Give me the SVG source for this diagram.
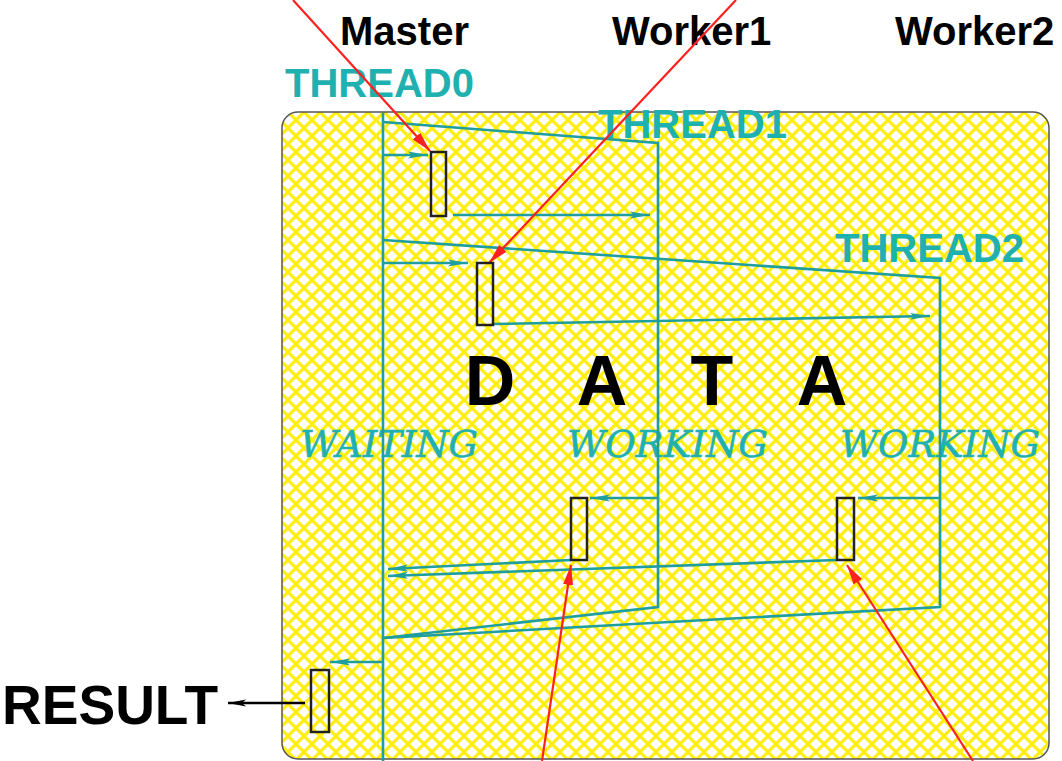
<svg xmlns="http://www.w3.org/2000/svg" width="1062" height="761" viewBox="0 0 1062 761">
<style>
.lbl{font-family:"Liberation Sans",Arial,sans-serif;font-weight:bold;fill:#000}
.thr{font-family:"Liberation Sans",Arial,sans-serif;font-weight:bold;fill:#1fb0b0}
.st{font-family:"DejaVu Serif","Liberation Serif",serif;font-style:italic;fill:#1fb0b0;stroke:#1fb0b0;stroke-width:0.6}
.big{font-family:"Liberation Sans",Arial,sans-serif;font-weight:bold;font-size:70px;fill:#000;text-anchor:middle}
.tl{fill:none;stroke:#1e9e9e;stroke-width:2.6}
.ta{fill:none;stroke:#1e9e9e;stroke-width:2.6;marker-end:url(#ah)}
.red{fill:none;stroke:#ff2020;stroke-width:2.2;marker-end:url(#rh)}
.box{fill:none;stroke:#222;stroke-width:2.5}
</style>
<defs>
<pattern id="hatch" patternUnits="userSpaceOnUse" width="16" height="16">
<rect width="16" height="16" fill="#fff"/>
<path d="M-4,-4 L20,20 M20,-4 L-4,20" stroke="#ffee10" stroke-width="3.2"/>
</pattern>
<marker id="ah" markerUnits="userSpaceOnUse" markerWidth="22" markerHeight="10" refX="20" refY="5" orient="auto">
<path d="M0,1.5 L20,5 L0,8.5 L4,5 Z" fill="#1e9e9e"/>
</marker>
<marker id="rh" markerUnits="userSpaceOnUse" markerWidth="22" markerHeight="12" refX="20" refY="6" orient="auto">
<path d="M0,1 L20,6 L0,11 Z" fill="#ff2020"/>
</marker>
<marker id="bh" markerUnits="userSpaceOnUse" markerWidth="20" markerHeight="10" refX="18" refY="5" orient="auto">
<path d="M0,1.5 L18,5 L0,8.5 L4,5 Z" fill="#000"/>
</marker>
</defs>

<g id="background">
<rect x="282" y="112" width="767" height="647" rx="16" ry="16" fill="url(#hatch)" stroke="#555" stroke-width="1.5"/>
</g>

<g id="headers">
<text class="lbl" x="340" y="45" font-size="40">Master</text>
<text class="lbl" x="612" y="45" font-size="40">Worker1</text>
<text class="lbl" x="895" y="45" font-size="40">Worker2</text>
<text class="thr" x="285" y="97" font-size="40">THREAD0</text>
<text class="thr" x="598" y="138" font-size="40">THREAD1</text>
<text class="thr" x="835" y="262" font-size="40">THREAD2</text>
</g>

<g id="data-label">
<text class="big" x="490" y="405">D</text>
<text class="big" x="602" y="405">A</text>
<text class="big" x="712" y="405">T</text>
<text class="big" x="822" y="405">A</text>
</g>

<g id="states">
<text class="st" x="300" y="457" font-size="37" textLength="178" lengthAdjust="spacingAndGlyphs">WAITING</text>
<text class="st" x="567" y="457" font-size="37" textLength="201" lengthAdjust="spacingAndGlyphs">WORKING</text>
<text class="st" x="840" y="457" font-size="37" textLength="200" lengthAdjust="spacingAndGlyphs">WORKING</text>
</g>

<g id="connectors">
<line class="tl" x1="383" y1="113" x2="383" y2="761"/>
<polyline class="tl" points="383,122 658,143 658,607 383,638"/>
<polyline class="tl" points="383,240 940,278 940,607 383,638"/>
<line class="ta" x1="383" y1="155" x2="428" y2="155"/>
<line class="ta" x1="453" y1="215" x2="650" y2="215"/>
<line class="ta" x1="383" y1="263" x2="468" y2="263"/>
<line class="ta" x1="493" y1="324" x2="930" y2="316"/>
<line class="ta" x1="657" y1="498" x2="590" y2="498"/>
<line class="ta" x1="940" y1="498" x2="858" y2="498"/>
<line class="ta" x1="571" y1="560" x2="388" y2="569"/>
<line class="ta" x1="837" y1="560" x2="388" y2="576"/>
<line class="ta" x1="383" y1="662" x2="330" y2="662"/>
<line x1="305" y1="703" x2="228" y2="703" stroke="#000" stroke-width="2.5" marker-end="url(#bh)"/>
<line class="red" x1="293" y1="0" x2="430" y2="151"/>
<line class="red" x1="736" y1="0" x2="489" y2="263"/>
<line class="red" x1="542" y1="761" x2="571" y2="565"/>
<line class="red" x1="973" y1="761" x2="847" y2="565"/>
</g>

<g id="master-task1"><rect class="box" x="431" y="152" width="15" height="64"/></g>
<g id="master-task2"><rect class="box" x="477" y="263" width="16" height="62"/></g>
<g id="worker1-task"><rect class="box" x="571" y="498" width="16" height="62"/></g>
<g id="worker2-task"><rect class="box" x="837" y="498" width="17" height="62"/></g>
<g id="result-task"><rect class="box" x="311" y="670" width="18" height="62"/></g>

<g id="result">
<text class="lbl" x="2" y="724" font-size="56" textLength="216" lengthAdjust="spacingAndGlyphs">RESULT</text>
</g>
</svg>
